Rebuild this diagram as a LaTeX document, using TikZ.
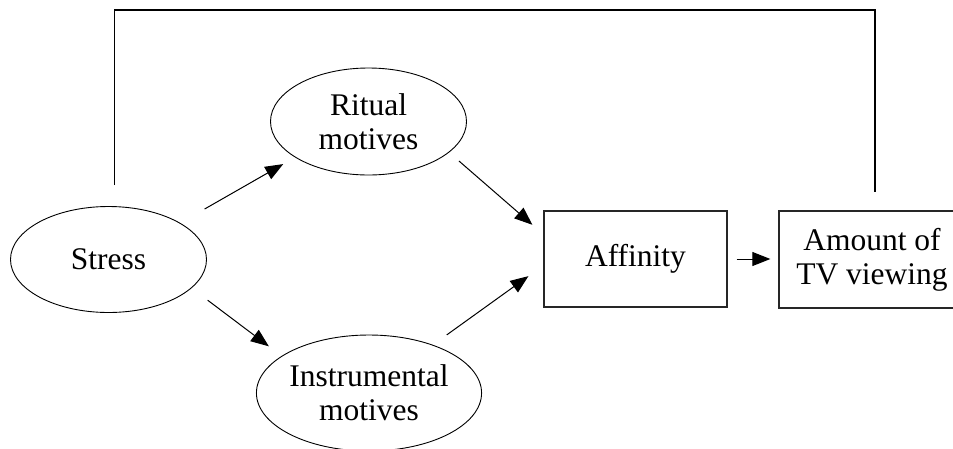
\documentclass[tikz,border=0pt]{standalone}
\usepackage{fontspec}
\setmainfont{Liberation Serif}
\usetikzlibrary{arrows.meta,shapes.geometric}
\tikzset{
  oval/.style={draw, line width=0.9pt, ellipse, inner sep=0pt, align=center,
    font=\fontsize{31.5}{34}\selectfont},
  boxnode/.style={draw, line width=1.3pt, draw=black!85, rectangle, inner sep=0pt, align=center,
    font=\fontsize{31.5}{34}\selectfont},
  arr/.style={line width=1pt, -{Triangle[length=18pt,width=14pt]}},
  conn/.style={line width=1.3pt}
}
\begin{document}
\begin{tikzpicture}[x=1pt,y=-1pt]
\useasboundingbox (0,0) rectangle (953,448);
\clip (0,0) rectangle (953,448);
\node[oval, minimum width=196pt, minimum height=106pt] (stress) at (108.5,259.5) {Stress};
\node[oval, minimum width=196pt, minimum height=107pt] (ritual) at (368.5,121.5) {Ritual\\motives};
\node[oval, minimum width=212pt, minimum height=116pt] (instr) at (369,393) {Instrumental\\motives};
\node[boxnode, minimum width=183pt, minimum height=96pt] (affinity) at (635.5,259) {Affinity};
\node[boxnode, minimum width=186pt, minimum height=97pt] (tv) at (872,259.5) {Amount of\\TV viewing};
\draw[arr, shorten <=28pt, shorten >=13.5pt] (stress.27) -- (ritual.206);
\draw[arr, shorten <=20pt, shorten >=16pt] (stress.-19.5) -- (instr.157);
\draw[arr, shorten <=13pt, shorten >=14.5pt] (ritual.-21) -- (affinity.165);
\draw[arr, shorten <=17pt, shorten >=18.4pt] (instr.37.6) -- (affinity.184);
\draw[arr, shorten <=9pt, shorten >=8pt] (affinity.east) -- (affinity.east -| tv.west);
\draw[conn] ([xshift=6pt,yshift=21pt]stress.north) -- ++(0,-175) -| ([xshift=3pt,yshift=18pt]tv.north);
\end{tikzpicture}
\end{document}
